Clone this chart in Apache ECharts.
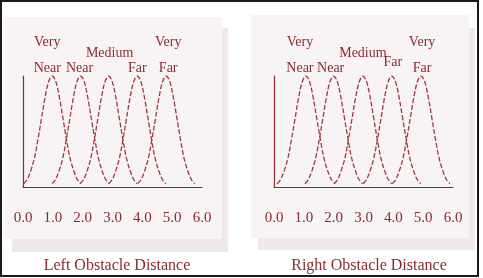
<!DOCTYPE html>
<html>
<head>
<meta charset="utf-8">
<script src="https://cdn.jsdelivr.net/npm/echarts@6/dist/echarts.min.js"></script>
<style>
  html, body { margin: 0; padding: 0; background: #fff; }
  #chart { width: 483px; height: 278px; }
</style>
</head>
<body>
<div id="chart"></div>
<script>
// membership terms
var termNames = ['Very\nNear', 'Near', 'Medium', 'Far', 'Very\nFar'];
// peak positions
var leftCenters = [0.98, 1.93, 2.87, 3.83, 4.8];
var rightCenters = [1.07, 2.0, 2.98, 3.95, 4.93];
var leftSpacing = 0.955;
var rightSpacing = 0.965;
// bell shape: offsets (in spacings) and membership values
var shapeOffsets = [-1, -0.875, -0.75, -0.625, -0.5, -0.375, -0.25, -0.125, 0,
                    0.125, 0.25, 0.375, 0.5, 0.625, 0.75, 0.875, 1];
var shapeValues = [0.03, 0.07, 0.15, 0.26, 0.43, 0.62, 0.81, 0.95, 1,
                   0.95, 0.81, 0.62, 0.43, 0.26, 0.15, 0.07, 0.03];
var xTickMin = 0, xTickMax = 6;
var titles = ['Left Obstacle Distance', 'Right Obstacle Distance'];

// label nudges (px) relative to each peak
var leftLabelOffsets = [[-5, -21], [-1, -8], [1, -23], [0, -8], [2, -21]];
var rightLabelOffsets = [[-6, -21], [-3, -8], [0, -23], [1, -14], [1, -21]];

var RED = '#8a2b30';
var LINE = '#9c3b43';
var FONT = '"Liberation Serif", "DejaVu Serif", serif';

var chart = echarts.init(document.getElementById('chart'));

function buildSeries(centers, spacing, offsets, axisIdx) {
    return centers.map(function (c, k) {
        return {
            type: 'line',
            xAxisIndex: axisIdx,
            yAxisIndex: axisIdx,
            smooth: 0.35,
            symbol: 'none',
            silent: true,
            lineStyle: { color: LINE, width: 1.3, type: [5, 2] },
            data: shapeOffsets.map(function (o, i) {
                return [c + o * spacing, shapeValues[i]];
            }),
            markPoint: {
                symbol: 'circle',
                symbolSize: 0,
                itemStyle: { color: 'transparent' },
                label: {
                    show: true,
                    position: 'inside',
                    formatter: termNames[k],
                    offset: offsets[k],
                    color: RED,
                    fontFamily: FONT,
                    fontSize: 14,
                    lineHeight: 26
                },
                data: [{ coord: [c, 1] }]
            }
        };
    });
}

function xAxis(idx) {
    return {
        type: 'value',
        gridIndex: idx,
        min: xTickMin,
        max: xTickMax,
        interval: 1,
        axisLine: { show: true, lineStyle: { color: RED, width: 1.2 } },
        axisTick: { show: false },
        splitLine: { show: false },
        axisLabel: {
            margin: 24,
            color: RED,
            fontFamily: FONT,
            fontSize: 15,
            formatter: function (v) { return v.toFixed(1); }
        }
    };
}

function yAxis(idx) {
    return {
        type: 'value',
        gridIndex: idx,
        min: 0,
        max: 1,
        axisLine: { show: true, lineStyle: { color: RED, width: 1.2 } },
        axisTick: { show: false },
        axisLabel: { show: false },
        splitLine: { show: false }
    };
}

var option = {
    animation: false,
    backgroundColor: '#fff',
    graphic: [
        { type: 'rect', z: -10, shape: { x: 12, y: 28, width: 216, height: 224 }, style: { fill: '#f0e7e9' } },
        { type: 'rect', z: -9, shape: { x: 4, y: 17, width: 218, height: 222 }, style: { fill: '#f8f3f4' } },
        { type: 'rect', z: -10, shape: { x: 258, y: 28, width: 217, height: 222 }, style: { fill: '#f0e7e9' } },
        { type: 'rect', z: -9, shape: { x: 251, y: 15, width: 218, height: 223 }, style: { fill: '#f8f3f4' } },
        { type: 'rect', z: 10, shape: { x: 1, y: 1, width: 477, height: 275 }, style: { fill: 'none', stroke: '#1a1a1a', lineWidth: 2 } }
    ],
    title: [
        {
            text: titles[0], left: 112, top: 253, textAlign: 'center',
            textStyle: { color: RED, fontFamily: FONT, fontSize: 16, fontWeight: 'normal' }
        },
        {
            text: titles[1], left: 364, top: 253, textAlign: 'center',
            textStyle: { color: RED, fontFamily: FONT, fontSize: 16, fontWeight: 'normal' }
        }
    ],
    grid: [
        { left: 23, top: 76, width: 179, height: 111 },
        { left: 274, top: 76, width: 179, height: 111 }
    ],
    xAxis: [xAxis(0), xAxis(1)],
    yAxis: [yAxis(0), yAxis(1)],
    series: buildSeries(leftCenters, leftSpacing, leftLabelOffsets, 0)
        .concat(buildSeries(rightCenters, rightSpacing, rightLabelOffsets, 1))
};

chart.setOption(option);
</script>
</body>
</html>
